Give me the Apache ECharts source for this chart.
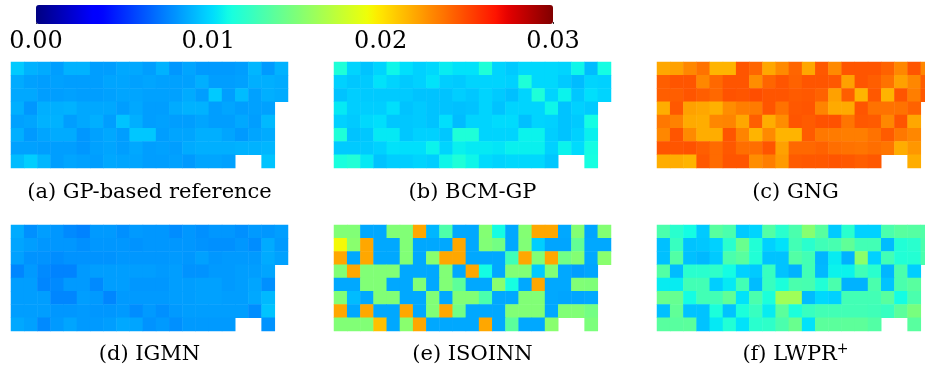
<!DOCTYPE html>
<html>
<head>
<meta charset="utf-8">
<script src="https://cdn.jsdelivr.net/npm/echarts@6/dist/echarts.min.js"></script>
<style>
  html, body { margin: 0; padding: 0; background: #fff; }
  #main { width: 925px; height: 368px; }
</style>
</head>
<body>
<div id="main"></div>
<script>
// cell values in units of 1e-3, rows listed top to bottom, null = no cell
var gpRef = [
  [9.7, 9.0, 8.8, 8.4, 9.0, 9.0, 8.4, 8.4, 8.7, 8.7, 8.4, 9.0, 8.2, 8.6, 8.3, 8.3, 8.3, 8.4, 9.1, 8.3, 9.0],
  [8.8, 8.5, 8.4, 8.5, 8.4, 8.4, 8.4, 8.6, 8.6, 8.5, 8.6, 8.5, 8.5, 8.5, 8.9, 8.4, 8.4, 8.5, 8.9, 8.9, 8.8],
  [8.7, 8.7, 8.4, 8.4, 8.5, 8.4, 8.4, 8.5, 8.6, 8.6, 8.5, 8.5, 8.5, 8.8, 8.4, 9.7, 8.4, 9.3, 8.5, 8.9, 8.8],
  [8.9, 8.2, 8.9, 8.9, 9.0, 8.7, 8.7, 8.7, 8.4, 8.7, 8.4, 8.4, 8.8, 9.0, 9.0, 8.4, 8.6, 8.4, 8.5, 8.5, null],
  [8.5, 8.6, 9.0, 9.0, 8.4, 8.7, 8.9, 8.4, 9.5, 8.9, 8.4, 8.5, 8.4, 8.4, 8.6, 8.4, 8.4, 8.7, 8.4, 9.2, null],
  [8.9, 8.3, 8.6, 8.8, 8.8, 8.2, 8.5, 8.7, 8.4, 9.6, 9.6, 8.4, 8.6, 8.6, 8.9, 8.9, 8.6, 8.3, 8.6, 8.8, null],
  [8.5, 8.5, 8.4, 8.4, 8.4, 8.2, 8.5, 8.6, 8.4, 8.7, 8.4, 8.5, 8.4, 8.8, 8.9, 8.9, 8.9, 9.0, 9.0, 9.1, null],
  [9.3, 9.8, 9.1, 8.4, 8.6, 8.5, 8.4, 8.7, 8.6, 8.6, 8.4, 8.4, 8.5, 8.3, 8.6, 8.6, 8.5, null, null, 9.5, null]
];
var bcmGp = [
  [11.6, 10.0, 9.5, 10.0, 11.0, 10.3, 9.9, 10.1, 10.7, 10.4, 10.4, 11.6, 10.0, 9.7, 10.1, 10.1, 10.1, 10.0, 11.0, 9.3, 11.2],
  [9.9, 9.6, 9.7, 10.4, 10.0, 9.7, 9.9, 10.4, 9.8, 9.7, 10.0, 10.0, 10.0, 9.9, 11.6, 10.1, 10.1, 9.7, 9.3, 10.0, 9.9],
  [9.5, 9.8, 9.7, 9.7, 9.7, 9.7, 9.5, 9.5, 9.5, 9.8, 9.6, 10.0, 9.7, 9.4, 10.0, 11.6, 10.0, 10.9, 9.6, 10.3, 10.0],
  [10.6, 9.8, 9.8, 9.8, 10.3, 9.5, 9.7, 9.5, 9.5, 9.4, 9.5, 10.0, 9.5, 10.0, 10.0, 10.0, 11.0, 9.5, 9.9, 9.7, null],
  [9.9, 9.7, 10.1, 10.3, 9.6, 9.6, 9.7, 9.5, 10.3, 9.3, 10.0, 10.0, 10.2, 10.2, 9.4, 10.0, 9.9, 9.5, 9.7, 11.2, null],
  [11.6, 9.5, 9.6, 10.6, 10.6, 9.6, 9.9, 9.9, 9.6, 11.6, 11.6, 10.0, 10.0, 10.0, 10.9, 10.9, 9.8, 9.5, 9.9, 10.8, null],
  [9.7, 9.7, 9.7, 9.9, 10.4, 10.3, 10.3, 10.9, 10.0, 10.8, 10.6, 10.6, 10.5, 10.8, 10.8, 10.8, 9.9, 10.9, 10.2, 11.2, null],
  [11.4, 11.7, 10.6, 9.5, 9.8, 9.8, 10.0, 9.8, 11.0, 11.6, 11.0, 10.2, 10.0, 10.1, 10.1, 10.1, 9.6, null, null, 11.3, null]
];
var gng = [
  [22.0, 22.2, 23.0, 23.7, 21.6, 21.6, 24.6, 24.1, 22.0, 22.9, 24.1, 22.0, 24.5, 22.9, 24.6, 24.6, 24.6, 24.2, 23.0, 24.6, 23.0],
  [24.3, 24.6, 24.6, 23.0, 24.0, 24.6, 24.6, 22.8, 24.1, 24.6, 24.2, 24.6, 24.6, 24.5, 22.2, 24.6, 24.3, 23.7, 22.2, 23.0, 24.3],
  [24.3, 24.3, 24.6, 24.3, 24.0, 24.7, 24.6, 24.8, 24.6, 24.6, 24.4, 24.5, 24.2, 22.2, 24.3, 21.6, 24.5, 21.6, 24.6, 23.3, 24.5],
  [21.8, 24.5, 22.2, 22.0, 21.7, 22.8, 23.3, 23.4, 24.6, 23.7, 24.5, 24.6, 23.1, 21.9, 21.9, 24.6, 23.7, 23.7, 23.7, 24.2, null],
  [23.5, 23.2, 21.9, 21.8, 23.0, 23.1, 22.0, 24.3, 21.8, 22.8, 24.6, 24.4, 24.7, 24.7, 23.6, 24.5, 24.4, 23.0, 24.6, 22.0, null],
  [23.0, 24.6, 22.9, 21.8, 21.8, 24.6, 23.1, 21.6, 22.9, 21.6, 21.6, 24.4, 23.5, 23.4, 23.3, 23.3, 23.7, 24.4, 23.5, 23.0, null],
  [24.6, 24.6, 24.7, 24.3, 23.9, 24.5, 23.8, 23.8, 24.6, 22.2, 24.0, 24.0, 24.2, 23.8, 23.7, 23.6, 23.8, 23.6, 21.8, 22.5, null],
  [21.8, 21.8, 21.6, 24.5, 23.9, 24.6, 24.6, 22.8, 23.3, 22.4, 24.4, 24.5, 24.5, 24.6, 24.5, 24.3, 24.5, null, null, 21.8, null]
];
var igmn = [
  [8.8, 8.0, 8.4, 8.2, 7.8, 7.6, 8.3, 8.3, 8.0, 8.3, 8.2, 8.2, 7.9, 8.2, 8.0, 8.2, 8.2, 8.0, 8.3, 8.2, 8.4],
  [8.6, 8.4, 8.2, 8.2, 8.2, 8.0, 8.2, 8.2, 8.2, 8.1, 8.2, 8.2, 8.2, 8.2, 8.1, 8.0, 8.0, 8.2, 7.9, 8.8, 8.3],
  [8.5, 8.1, 8.1, 7.9, 8.1, 8.1, 8.1, 8.1, 8.2, 8.2, 8.2, 8.2, 8.3, 8.2, 8.5, 8.2, 8.3, 8.3, 8.3, 8.8, 8.5],
  [7.7, 8.3, 7.8, 7.6, 7.6, 8.3, 8.4, 8.4, 8.4, 8.4, 8.4, 8.3, 8.4, 8.1, 8.1, 8.3, 8.3, 8.4, 8.4, 8.6, null],
  [8.4, 8.4, 7.7, 7.8, 8.3, 8.3, 7.8, 8.4, 8.4, 8.2, 8.2, 8.2, 8.4, 8.4, 8.5, 8.5, 8.3, 8.4, 8.6, 8.0, null],
  [8.4, 8.4, 8.4, 7.7, 7.7, 8.4, 8.3, 7.7, 8.3, 8.3, 8.3, 8.3, 8.4, 8.4, 8.5, 8.5, 8.4, 8.4, 8.7, 9.2, null],
  [8.4, 8.4, 8.4, 8.2, 8.2, 8.3, 8.2, 8.2, 8.3, 7.9, 8.3, 8.0, 8.3, 8.4, 8.4, 8.4, 8.4, 8.4, 7.9, 9.5, null],
  [8.7, 8.5, 7.8, 8.3, 8.6, 8.3, 8.3, 8.4, 8.7, 8.6, 8.1, 8.3, 8.0, 8.3, 8.3, 8.3, 8.3, null, null, 8.1, null]
];
var isoinn = [
  [15.2, 15.2, 8.7, 8.7, 15.2, 15.2, 22.0, 9.1, 13.3, 8.7, 8.7, 15.3, 11.2, 8.7, 15.3, 22.0, 22.0, 8.7, 15.3, 8.6, 15.3],
  [19.4, 15.5, 22.0, 8.7, 8.7, 15.2, 8.7, 8.7, 8.7, 22.0, 8.7, 15.2, 14.7, 8.7, 15.2, 9.8, 8.6, 8.6, 14.1, 8.7, 8.7],
  [22.0, 8.7, 22.0, 8.7, 8.7, 15.2, 8.7, 15.5, 22.0, 22.0, 8.7, 8.7, 8.7, 12.8, 22.0, 15.2, 22.0, 14.6, 15.3, 8.7, 15.5],
  [15.2, 22.0, 15.2, 15.2, 15.2, 8.7, 8.7, 8.7, 15.2, 8.7, 22.0, 11.2, 8.7, 15.2, 15.2, 9.7, 15.2, 8.7, 8.4, 8.6, null],
  [8.7, 8.7, 15.2, 15.2, 8.7, 8.7, 15.2, 8.7, 15.2, 13.9, 8.7, 8.7, 15.5, 11.3, 8.7, 22.0, 8.7, 8.7, 15.2, 15.1, null],
  [15.2, 9.3, 8.7, 15.2, 15.2, 8.7, 8.7, 15.2, 8.7, 15.2, 15.2, 13.2, 8.7, 8.7, 15.2, 15.2, 8.7, 8.6, 8.6, 8.7, null],
  [22.0, 8.7, 22.0, 8.7, 8.7, 22.0, 8.7, 15.2, 22.0, 14.6, 8.7, 8.7, 8.7, 15.2, 15.2, 15.2, 8.7, 15.2, 15.2, 14.7, null],
  [15.2, 15.2, 15.2, 21.2, 8.7, 15.5, 22.0, 8.7, 8.7, 8.7, 8.7, 22.0, 8.7, 13.8, 8.7, 8.7, 15.5, null, null, 15.0, null]
];
var lwpr = [
  [13.2, 12.0, 11.2, 9.7, 13.7, 13.2, 9.7, 10.0, 13.5, 12.0, 13.2, 15.4, 13.7, 9.7, 12.0, 9.9, 9.9, 13.2, 13.7, 13.6, 13.4],
  [9.4, 12.5, 9.5, 9.6, 9.9, 12.0, 14.3, 11.7, 9.9, 10.4, 12.9, 12.0, 12.8, 13.1, 14.0, 12.9, 12.9, 9.3, 11.7, 12.0, 13.2],
  [9.4, 13.5, 9.4, 9.2, 9.7, 13.2, 13.7, 11.7, 9.5, 9.5, 13.5, 12.9, 9.1, 10.7, 9.0, 15.6, 9.9, 12.9, 11.7, 11.8, 13.2],
  [13.5, 9.3, 12.0, 12.0, 12.2, 11.2, 9.9, 9.7, 12.5, 9.5, 9.0, 12.9, 9.2, 10.9, 10.9, 12.8, 12.0, 9.1, 13.2, 9.8, null],
  [10.7, 10.7, 12.9, 12.9, 9.8, 10.6, 12.9, 9.3, 12.5, 11.5, 13.2, 13.1, 11.7, 13.2, 9.0, 9.0, 13.2, 9.5, 13.2, 13.7, null],
  [14.3, 14.2, 11.2, 12.9, 12.9, 14.0, 10.4, 13.2, 11.5, 16.3, 16.3, 9.3, 10.1, 9.9, 12.9, 12.9, 12.9, 13.7, 11.2, 13.2, null],
  [9.4, 14.0, 9.5, 9.5, 11.5, 9.5, 11.5, 12.5, 10.7, 13.8, 11.5, 12.5, 12.9, 12.9, 12.9, 12.9, 12.8, 12.5, 13.8, 14.9, null],
  [13.7, 13.7, 13.8, 9.5, 10.6, 11.7, 10.4, 12.0, 12.2, 13.2, 14.3, 10.4, 13.8, 13.8, 13.9, 13.9, 13.5, null, null, 13.7, null]
];
var captions = ['(a) GP-based reference', '(b) BCM-GP', '(c) GNG', '(d) IGMN', '(e) ISOINN', '(f) LWPR{sup|+}'];
var barTicks = ['0.00', '0.01', '0.02', '0.03'];

var panels = [gpRef, bcmGp, gng, igmn, isoinn, lwpr];
var panelLeft = [11, 334, 657];
var panelTop = [62, 225];
var captionY = [193, 355];

// matplotlib jet colormap
var jetR = [[0, 0], [0.35, 0], [0.66, 1], [0.89, 1], [1, 0.5]];
var jetG = [[0, 0], [0.125, 0], [0.375, 1], [0.64, 1], [0.91, 0], [1, 0]];
var jetB = [[0, 0.5], [0.11, 1], [0.34, 1], [0.65, 0], [1, 0]];
function seg(s, t) {
  for (var i = 1; i < s.length; i++) {
    if (t <= s[i][0]) {
      var a = s[i - 1], b = s[i];
      return a[1] + (b[1] - a[1]) * (t - a[0]) / (b[0] - a[0]);
    }
  }
  return s[s.length - 1][1];
}
var jet = [];
for (var k = 0; k <= 64; k++) {
  var t = k / 64;
  jet.push('rgb(' + Math.round(seg(jetR, t) * 255) + ',' + Math.round(seg(jetG, t) * 255) + ',' + Math.round(seg(jetB, t) * 255) + ')');
}

var colIdx = [], rowIdx = [];
for (var c = 0; c < 21; c++) colIdx.push(c);
for (var r = 0; r < 8; r++) rowIdx.push(r);

var grids = [], xAxes = [], yAxes = [], series = [], graphics = [];
panels.forEach(function(rows, i) {
  var left = panelLeft[i % 3], top = panelTop[Math.floor(i / 3)];
  // panels (c) and (f) run past the right edge of the picture
  grids.push({ left: left, top: top, width: 277, height: 106, outerBoundsMode: 'none' });
  xAxes.push({ gridIndex: i, type: 'category', data: colIdx, show: false });
  yAxes.push({ gridIndex: i, type: 'category', data: rowIdx, inverse: true, show: false });
  var data = [];
  rows.forEach(function(row, y) {
    row.forEach(function(v, x) {
      if (v !== null) data.push([x, y, v]);
    });
  });
  series.push({
    type: 'heatmap', xAxisIndex: i, yAxisIndex: i, data: data,
    itemStyle: { borderWidth: 0 },
    emphasis: { disabled: true }
  });
  graphics.push({
    type: 'text',
    x: left + 138.5,
    y: captionY[Math.floor(i / 3)],
    style: {
      text: captions[i],
      align: 'center',
      verticalAlign: 'middle',
      font: '21px "DejaVu Serif"',
      fill: '#000',
      rich: { sup: { fontSize: 14, fontFamily: 'DejaVu Serif', verticalAlign: 'top', padding: [0, 0, 12, 0] } }
    }
  });
});

// colour bar axis
grids.push({ left: 36, top: 5, width: 517, height: 19, outerBoundsMode: 'none' });
xAxes.push({
  gridIndex: 6, type: 'value', min: 0, max: 30, interval: 10,
  axisLine: { show: false }, splitLine: { show: false },
  axisTick: { inside: true, length: 2, lineStyle: { color: '#333' } },
  axisLabel: {
    margin: 6, fontSize: 24, fontFamily: 'DejaVu Serif', color: '#000',
    formatter: function(v) { return barTicks[Math.round(v / 10)]; }
  }
});
yAxes.push({ gridIndex: 6, type: 'value', show: false });

var myChart = echarts.init(document.getElementById('main'));
var option = {
  animation: false,
  backgroundColor: '#fff',
  grid: grids,
  xAxis: xAxes,
  yAxis: yAxes,
  visualMap: {
    type: 'continuous', min: 0, max: 30,
    orient: 'horizontal', left: 36, top: 5,
    itemWidth: 19, itemHeight: 517,
    padding: 0, calculable: false, hoverLink: false,
    seriesIndex: [0, 1, 2, 3, 4, 5],
    inRange: { color: jet }
  },
  graphic: graphics,
  series: series
};
myChart.setOption(option);
</script>
</body>
</html>
